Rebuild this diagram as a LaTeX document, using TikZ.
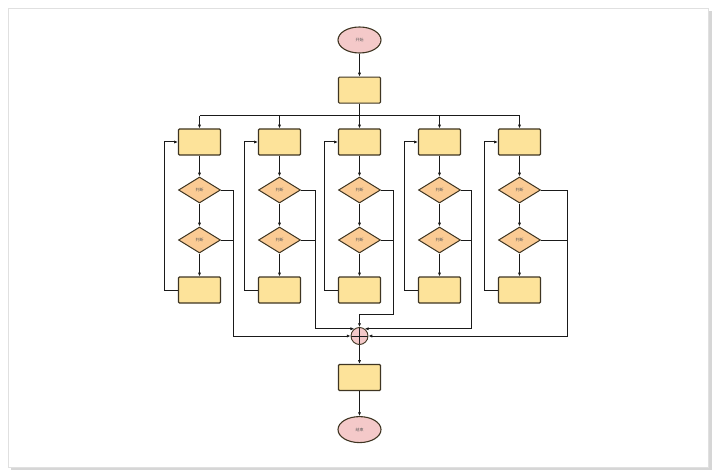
\documentclass[tikz,border=0pt]{standalone}
\usepackage{fontspec}
\newfontfamily\cjk{Noto Sans CJK SC}
\usepackage{xcolor}
\usetikzlibrary{shapes.geometric,arrows.meta,positioning}
\definecolor{boxfill}{HTML}{FDE39A}
\definecolor{boxline}{HTML}{3F3522}
\definecolor{judgefill}{HTML}{FBCB94}
\definecolor{termfill}{HTML}{F4C9C9}
\definecolor{wire}{HTML}{1A1A1A}

\begin{document}
\begin{tikzpicture}[
    x=1pt, y=-1pt,
    term/.style={ellipse, draw=boxline, fill=termfill, line width=1.1pt, minimum width=43pt, minimum height=26pt, inner sep=0pt, font=\cjk\fontsize{4pt}{5pt}\selectfont, text=black!65},
    proc/.style={rectangle, draw=boxline, fill=boxfill, line width=1.1pt, rounded corners=1pt, minimum width=42pt, minimum height=26pt},
    judge/.style={diamond, draw=boxline, fill=judgefill, line width=1pt, aspect=1.6, minimum width=42pt, minimum height=26pt, inner sep=0pt, font=\cjk\fontsize{4pt}{5pt}\selectfont, text=black!65},
    merge/.style={circle, draw=boxline, fill=termfill, line width=0.9pt, minimum size=17pt, inner sep=0pt,
        path picture={\draw[wire, line width=0.7pt] (path picture bounding box.north) -- (path picture bounding box.south) (path picture bounding box.west) -- (path picture bounding box.east);}},
    arr/.style={-{Latex[length=3.8pt,width=3.2pt]}, line width=1pt, draw=wire},
    wireline/.style={line width=1pt, draw=wire}
]
    \useasboundingbox (0,0) rectangle (720,476);
    % page
    \fill[white] (0,0) rectangle (720,476);
    \fill[black!16] (11,11) rectangle (712,470);
    \fill[white] (8,8) rectangle (708,467);
    \draw[black!12, line width=0.4pt] (8,8) rectangle (708,467);

    \node [term] (start) at (359.5,40) {开始};
    \node [proc, below=23pt of start] (top) {};
    \coordinate (bus) at (359.5,116);

    \draw [arr] (start) -- (top);
    \draw [wireline] (top) -- (bus);

    % five branches
    \foreach \i/\x/\r in {1/199.5/233, 2/279.5/315.5, 3/359.5/393, 4/439.5/471.5, 5/519.5/567} {
        \node [proc] (a\i) at (\x,142) {};
        \node [judge] (j\i) at (\x,190) {判断};
        \node [judge] (k\i) at (\x,240) {判断};
        \node [proc] (b\i) at (\x,290) {};
        \coordinate (r\i) at (\r,190);

        \draw [arr] (bus -| a\i) -- (a\i);
        \draw [arr] (a\i) -- (j\i);
        \draw [arr] (j\i) -- (k\i);
        \draw [arr] (k\i) -- (b\i);
        \draw [arr] (b\i.west) -- ++(-13,0) |- (a\i.west);
        \draw [wireline] (j\i.east) -- (r\i);
        \draw [wireline] (k\i.east) -- (k\i.east -| r\i);
    }
    \draw [wireline] (bus -| a1) -- (bus -| a5);

    \node [merge] (sum) at (359.5,336) {};
    \coordinate (c3) at (359.5,314);

    \draw [arr] (r1) |- (sum.west);
    \draw [arr] (r2) |- (sum.126);
    \draw [arr] (r3) |- (c3) -- (sum.north);
    \draw [arr] (r4) |- (sum.54);
    \draw [arr] (r5) |- (sum.east);

    \node [proc, below=19pt of sum] (bot) {};
    \node [term, below=25pt of bot] (end) {结束};

    \draw [arr] (sum) -- (bot);
    \draw [arr] (bot) -- (end);
\end{tikzpicture}
\end{document}
